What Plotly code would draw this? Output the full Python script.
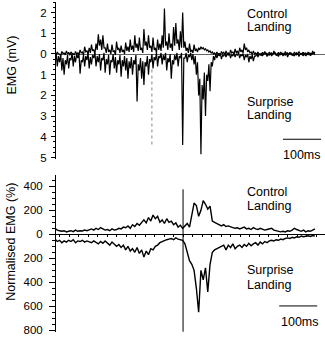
import numpy as np
import plotly.graph_objects as go

# ---------------- data ----------------
DT_TOP_MS = 3
DT_BOT_MS = 6

# Top panel: raw EMG (mV); control plotted upward, surprise downward
top_control = [
    0.05, -0.05, 0.1, 0.0, 0.0, -0.08, 0.12, 0.02, 0.05, -0.04, 0.15, 0.0, 0.08, -0.06,
    0.1, 0.02, 0.02, -0.05, 0.12, 0.0, 0.05, -0.03,
    0.2, 0.05, 0.1, -0.05, 0.35, 0.1, 0.15, 0.0, 0.3, 0.05, 0.45, 0.15, 0.2, 0.0, 0.5, 0.2,
    0.95, 0.4, 0.7, 0.2, 0.9, 0.3,
    0.3, 0.05, 0.5, 0.1, 0.2, 0.0, 0.45, 0.1, 0.15, -0.05, 0.6, 0.2, 0.3, 0.05, 0.4, 0.1,
    0.2, 0.0, 0.55, 0.15, 0.35, 0.1,
    0.7, 0.2, 0.4, 0.1, 0.9, 0.3, 0.5, 0.15, 0.8, 0.2, 0.3, 0.05, 1.2, 0.4, 0.6, 0.2, 0.9, 0.3,
    0.4, 0.1, 0.8, 0.2, 0.3, 0.05, 0.7, 0.2, 0.5, 0.15, 0.9, 0.3,
    2.2, 0.4,
    0.6, 0.2, 1.0, 0.3, 0.5, 0.15, 1.3, 0.4, 1.5, 0.5, 0.7, 0.2, 1.1, 0.3,
    2.0, 0.3,
    0.6, 0.15, 0.3, 0.05, 0.5, 0.1, 0.2, 0.05, 0.45, 0.15, 0.25, 0.1,
    0.3, 0.2, 0.35, 0.25, 0.3, 0.2, 0.25, 0.15, 0.2, 0.1, 0.15, 0.05, 0.1, 0.0,
    0.05, -0.05, 0.1, 0.0, 0.02, -0.06, 0.12, 0.02, 0.08, -0.04, 0.15, 0.0, 0.05, -0.05,
    0.2, 0.05, 0.1, -0.02, 0.25, 0.05, 0.15, 0.0, 0.3, 0.1, 0.2, 0.05,
    0.5, 0.2,
    0.3, 0.1, 0.2, 0.05, 0.1, -0.03, 0.15, 0.0, 0.05, -0.05, 0.1, 0.0, 0.0, -0.06,
    0.08, -0.02, 0.12, 0.0, 0.02, -0.05, 0.1, 0.0, 0.05, -0.04, 0.15, 0.02,
    0.0, -0.06, 0.08, -0.02, 0.1, 0.0, 0.03, -0.05, 0.12, 0.01, 0.05, -0.04, 0.08, -0.02,
    0.0, -0.06, 0.1, 0.0, 0.06, -0.03, 0.12, 0.02, 0.02, -0.05,
    0.08, -0.02, 0.05, -0.04, 0.1, 0.0, 0.03, -0.05, 0.15, 0.02, 0.1,
]
top_surprise = [
    -0.3, 0.05, -0.6, -0.1, -0.4, 0.0, -0.8, -0.2,
    -1.0, -0.3,
    -0.5, -0.05, -0.7, -0.2, -0.3, 0.05, -0.6, -0.1, -0.4, 0.0, -0.2, 0.05,
    -0.95, -0.3,
    -0.4, -0.05, -0.6, -0.1, -0.3, 0.05, -0.7, -0.15, -0.5, -0.05, -0.2, 0.05, -0.6, -0.1,
    -0.4, 0.0, -0.8, -0.2, -0.3, 0.05, -0.9, -0.25, -0.5, -0.05, -1.0, -0.3, -0.4, 0.0,
    -0.7, -0.15, -0.9, -0.3, -0.5, -0.05, -1.1, -0.3, -0.6, -0.1, -0.8, -0.2, -1.2, -0.35,
    -0.7, -0.15, -1.0, -0.3, -0.5, -0.05,
    -2.3, -0.5,
    -0.8, -0.2, -1.2, -0.35, -1.5, -0.4, -0.6, -0.1, -1.0, -0.25,
    -0.4, 0.0, -0.7, -0.15, -0.3, 0.05, -0.6, -0.1, -0.2, 0.05, -0.5, -0.05,
    -0.3, 0.05, -0.8, -0.2, -0.4, 0.0, -1.2, -0.3, -0.5, -0.05, -0.3, 0.05, -0.6, -0.1,
    -0.2, 0.05,
    -4.4, -0.2,
    -0.2, 0.05, -0.4, -0.05, -0.15, 0.05, -0.3, 0.0, -0.5, -0.1, -1.0, -0.4,
    -2.0, -1.2, -4.85, -1.5, -2.2, -0.9, -3.0, -1.0, -1.3, -0.5, -1.8, -0.4, -0.6, -0.1,
    -0.3, 0.0, -0.2, 0.0, -0.1, 0.02, -0.25, -0.05, -0.1, 0.02, -0.15, 0.0, -0.05, 0.03,
    -0.2, -0.02, -0.1, 0.02, -0.15, 0.0, -0.05, 0.03, -0.2, -0.02, -0.1, 0.02,
    -0.3, -0.05, -0.15, 0.0, -0.4, -0.1, -0.25, -0.05, -0.35, -0.1, -0.1, 0.02,
    -0.15, 0.0, -0.05, 0.04, -0.1, 0.0, 0.0, 0.05, -0.12, 0.0, -0.05, 0.04, -0.1, 0.0,
    0.02, 0.06, -0.08, 0.02, -0.12, 0.0, -0.03, 0.05, -0.1, 0.0,
    -0.05, 0.04, -0.15, 0.0, 0.0, 0.05, -0.08, 0.02, -0.1, 0.0, -0.04, 0.04, -0.12, 0.0,
    -0.02, 0.05, -0.06, 0.02, -0.1, 0.0, -0.03, 0.04,
    -0.08, 0.02, 0.0, 0.05, -0.05,
]

# Bottom panel: normalised EMG (%)
bot_control = [
    50, 35, 30, 25, 30, 20, 25, 30, 22, 35, 25, 30, 28, 35, 30, 40,
    45, 35, 50, 40, 55, 45, 35, 40, 30, 45, 35, 40, 50,
    45, 60, 55, 70, 50, 80, 65, 90, 75, 100,
    120, 95, 140, 110, 160, 130, 150, 100,
    120, 90, 130, 100, 110, 80, 95, 60, 75,
    50,
    70, 90, 60, 150,
    260, 240, 150,
    200, 280, 250,
    210, 235, 110,
    100, 90, 85, 70, 80, 65, 70, 60, 55, 50, 55,
    45, 50, 60, 45, 50, 40, 55, 45, 40, 50, 45, 35, 40, 45, 50,
    35, 30, 25, 20, 25, 20, 30, 25, 35, 50,
    40, 30, 25, 35, 20, 30, 25, 35, 45,
]
bot_surprise = [
    -40, -60, -50, -70, -55, -65, -50, -60, -45, -70, -55, -60, -50, -65, -55, -60,
    -70, -55, -65, -80, -60, -75, -55, -70, -90, -65, -80, -100, -85,
    -110, -90, -130, -100, -140, -120, -150, -110, -160, -130,
    -190, -140, -170, -120, -130, -100, -90, -70,
    -60, -50, -45, -40, -35, -45, -30, -40, -45,
    -50,
    -80, -150, -220, -250,
    -300, -450, -650,
    -300, -380, -280,
    -480, -250, -150,
    -130, -120, -110, -100, -90, -130, -90, -110, -80, -120, -100,
    -90, -110, -85, -100, -75, -95, -80, -70, -90, -65, -80, -60, -70, -55, -50,
    -55, -45, -50, -40, -45, -35, -30, -35, -25, -30,
    -20, -25, -15, -20, -15, -12, -18, -10, -15,
]

# reference markers / scale bars
dotted_marker_t = [255, 255]
dotted_marker_mv = [-0.75, -4.4]
landing_t = [337, 337]
landing_pct = [375, -812]
top_bar_ms, top_bar_mv = [600, 700], [-4.12, -4.12]
bot_bar_ms, bot_bar_pct = [590, 690], [-597, -597]
top_tick_vals = [2, 1, 0, -1, -2, -3, -4, -5]
top_tick_text = ["2", "1", "0", "1", "2", "3", "4", "5"]
bot_tick_vals = [400, 200, 0, -200, -400, -600, -800]
bot_tick_text = ["400", "200", "0", "200", "400", "600", "800"]

# ---------------- figure ----------------
t_top = np.arange(len(top_control)) * DT_TOP_MS
t_top_s = np.arange(len(top_surprise)) * DT_TOP_MS
t_bot = np.arange(len(bot_control)) * DT_BOT_MS
t_bot_s = np.arange(len(bot_surprise)) * DT_BOT_MS

W, H = 325, 338
L = 55
FONT = "Liberation Sans, Arial, Helvetica, sans-serif"
XR = [0, 710.5]
TOP_R = [-5.05, 2.5]
BOT_R = [-815, 495]
TOP_D = [1 - 158.5 / H, 1 - 2.25 / H]
BOT_D = [1 - 332.1 / H, 1 - 174.9 / H]


def zero_pos(rng, dom):
    return dom[0] + (0 - rng[0]) / (rng[1] - rng[0]) * (dom[1] - dom[0])


line = dict(color="black", width=1)
top_line = dict(color="black", width=1.2)
bot_line = dict(color="black", width=1.4)
fig = go.Figure()
fig.add_trace(go.Scatter(x=t_top, y=top_control, mode="lines", line=top_line, xaxis="x", yaxis="y"))
fig.add_trace(go.Scatter(x=t_top_s, y=top_surprise, mode="lines", line=top_line, xaxis="x", yaxis="y"))
fig.add_trace(go.Scatter(x=dotted_marker_t, y=dotted_marker_mv, mode="lines",
                         line=dict(color="#888888", width=1, dash="dot"), xaxis="x", yaxis="y"))
fig.add_trace(go.Scatter(x=top_bar_ms, y=top_bar_mv, mode="lines", line=line, xaxis="x", yaxis="y"))

fig.add_trace(go.Scatter(x=t_bot, y=bot_control, mode="lines", line=bot_line, xaxis="x2", yaxis="y2"))
fig.add_trace(go.Scatter(x=t_bot_s, y=bot_surprise, mode="lines", line=bot_line, xaxis="x2", yaxis="y2"))
fig.add_trace(go.Scatter(x=landing_t, y=landing_pct, mode="lines", line=line, xaxis="x2", yaxis="y2"))
fig.add_trace(go.Scatter(x=bot_bar_ms, y=bot_bar_pct, mode="lines", line=line, xaxis="x2", yaxis="y2"))

tickfont = dict(family=FONT, size=11.5, color="black")
fig.update_layout(
    width=W, height=H, showlegend=False,
    margin=dict(l=L, r=0, t=0, b=0, autoexpand=False),
    paper_bgcolor="white", plot_bgcolor="white",
    font=dict(family=FONT, color="black"),
    xaxis=dict(range=XR, domain=[0, 1], anchor="free", position=zero_pos(TOP_R, TOP_D),
               automargin=False,
               showline=True, linecolor="black", linewidth=0.6, ticks="",
               showticklabels=False, showgrid=False, zeroline=False),
    yaxis=dict(range=TOP_R, domain=TOP_D, anchor="free", position=0, automargin=False,
               showline=True, linecolor="black", linewidth=1,
               tickvals=top_tick_vals, ticktext=top_tick_text, ticks="outside",
               ticklen=4, tickwidth=1, tickcolor="black", tickfont=tickfont,
               ticklabelstandoff=2,
               minor=dict(dtick=0.25, ticks="outside", ticklen=2, tickcolor="black", showgrid=False),
               showgrid=False, zeroline=False),
    xaxis2=dict(range=XR, domain=[0, 1], anchor="free", position=zero_pos(BOT_R, BOT_D),
                automargin=False,
                showline=True, linecolor="black", linewidth=1, ticks="outside",
                dtick=25, tick0=12, ticklen=2, tickcolor="black",
                showticklabels=False, showgrid=False, zeroline=False),
    yaxis2=dict(range=BOT_R, domain=BOT_D, anchor="free", position=0, automargin=False,
                showline=True, linecolor="black", linewidth=1,
                tickvals=bot_tick_vals, ticktext=bot_tick_text, ticks="outside",
                ticklen=6, tickwidth=1, tickcolor="black", tickfont=tickfont,
                ticklabelstandoff=4,
                minor=dict(dtick=50, ticks="outside", ticklen=3, tickcolor="black", showgrid=False),
                showgrid=False, zeroline=False),
)

lab = dict(family=FONT, size=12.5, color="black")
ann = [
    ("x", "y", 500, 1.93, "Control"), ("x", "y", 500, 1.32, "Landing"),
    ("x", "y", 500, -2.30, "Surprise"), ("x", "y", 500, -2.96, "Landing"),
    ("x2", "y2", 500, 350, "Control"), ("x2", "y2", 500, 236, "Landing"),
    ("x2", "y2", 500, -297, "Surprise"), ("x2", "y2", 500, -422, "Landing"),
]
for xr, yr, x, y, txt in ann:
    fig.add_annotation(xref=xr, yref=yr, x=x, y=y, text=txt, showarrow=False,
                       xanchor="left", yanchor="middle", font=lab)
fig.add_annotation(xref="x", yref="y", x=650, y=-4.88, text="100ms", showarrow=False,
                   xanchor="center", yanchor="middle", font=lab)
fig.add_annotation(xref="x2", yref="y2", x=645, y=-728, text="100ms", showarrow=False,
                   xanchor="center", yanchor="middle", font=lab)
fig.add_annotation(xref="paper", yref="paper", x=(11.5 - L) / (W - L), y=1 - 65 / H,
                   text="EMG (mV)", textangle=-90, showarrow=False,
                   xanchor="center", yanchor="middle", font=lab)
fig.add_annotation(xref="paper", yref="paper", x=(11 - L) / (W - L), y=1 - 241.7 / H,
                   text="Normalised EMG (%)", textangle=-90, showarrow=False,
                   xanchor="center", yanchor="middle", font=lab)

fig.write_html("out.html", config={"displayModeBar": False, "staticPlot": True},
               post_script="document.body.style.margin='0';document.body.style.overflow='hidden';")
